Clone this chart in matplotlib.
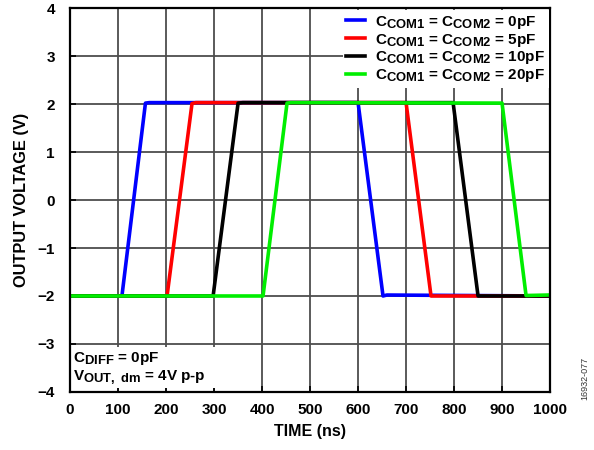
import matplotlib
import matplotlib.pyplot as plt
from matplotlib.patches import Rectangle

plt.rcParams['font.family'] = ['Liberation Sans', 'DejaVu Sans']
plt.rcParams['font.weight'] = 'bold'
plt.rcParams['mathtext.fontset'] = 'custom'
plt.rcParams['mathtext.rm'] = 'Liberation Sans:bold'
plt.rcParams['mathtext.it'] = 'Liberation Sans:bold'
plt.rcParams['mathtext.bf'] = 'Liberation Sans:bold'
# subscripts in the original are nearly full size
matplotlib._mathtext.SHRINK_FACTOR = 0.85

# waveform corner points (ns, V)
t_0pf = [0, 108, 157, 165, 600, 652, 660, 1000]
v_0pf = [-2.0, -2.0, 2.02, 2.03, 2.03, -2.0, -1.98, -2.0]
t_5pf = [0, 202, 254, 262, 700, 752, 1000]
v_5pf = [-2.0, -2.0, 2.01, 2.03, 2.03, -2.0, -2.0]
t_10pf = [0, 298, 350, 360, 798, 850, 1000]
v_10pf = [-2.0, -2.0, 2.02, 2.03, 2.03, -2.0, -2.0]
t_20pf = [0, 402, 452, 460, 900, 950, 996]
v_20pf = [-2.0, -2.0, 2.02, 2.03, 2.02, -1.99, -1.98]

labels = [r'C$_{\mathrm{COM1}}$ = C$_{\mathrm{COM2}}$ = 0pF',
          r'C$_{\mathrm{COM1}}$ = C$_{\mathrm{COM2}}$ = 5pF',
          r'C$_{\mathrm{COM1}}$ = C$_{\mathrm{COM2}}$ = 10pF',
          r'C$_{\mathrm{COM1}}$ = C$_{\mathrm{COM2}}$ = 20pF']
colors = ['#0000ff', '#ff0000', '#000000', '#00ee00']

fig = plt.figure(figsize=(5.94, 4.5), dpi=100)
ax = fig.add_axes([0.118, 0.129, 0.808, 0.853])

series = [(t_0pf, v_0pf), (t_5pf, v_5pf), (t_10pf, v_10pf), (t_20pf, v_20pf)]
for (t, v), c, lab in zip(series, colors, labels):
    ax.plot(t, v, color=c, lw=2.6, label=lab, zorder=3)

ax.set_xlim(0, 1000)
ax.set_ylim(-4, 4)
ax.set_xticks(range(0, 1001, 100))
ax.set_yticks(range(-4, 5))
ax.set_axisbelow(True)
ax.grid(True, color='#4d4d4d', lw=1.3)
ax.tick_params(direction='in', length=4, width=1.2, labelsize=11)
ax.tick_params(axis='y', pad=11)
ax.tick_params(axis='x', pad=8)
for sp in ax.spines.values():
    sp.set_linewidth(1.6)
    sp.set_zorder(4)

ax.set_xlabel('TIME (ns)', fontsize=11.5, fontweight='bold', labelpad=5)
ax.set_ylabel('OUTPUT VOLTAGE (V)', fontsize=11.8, fontweight='bold', labelpad=6)

# white patch behind the condition text
ax.add_patch(Rectangle((0, -3.92), 395, 0.86, facecolor='white', edgecolor='none', zorder=1))
ax.text(6, -3.12, r'C$_{\mathrm{DIFF}}$ = 0pF' + '\n' + r'V$_{\mathrm{OUT,\ dm}}$ = 4V p-p',
        fontsize=11, fontweight='bold', va='top', ha='left', linespacing=1.15, zorder=2)

leg = ax.legend(loc='upper right', bbox_to_anchor=(0.998, 0.995), fontsize=11,
                handlelength=1.2, handletextpad=0.7, labelspacing=0.05,
                borderpad=0.25, borderaxespad=0.0, fancybox=False, framealpha=1)
leg.get_frame().set_edgecolor('none')
leg.set_zorder(5)

fig.text(0.985, 0.16, '16932-077', rotation=90, fontsize=6.5, fontweight='normal',
         color='#333333', ha='center', va='center')

fig.savefig('out.png', dpi=100)
